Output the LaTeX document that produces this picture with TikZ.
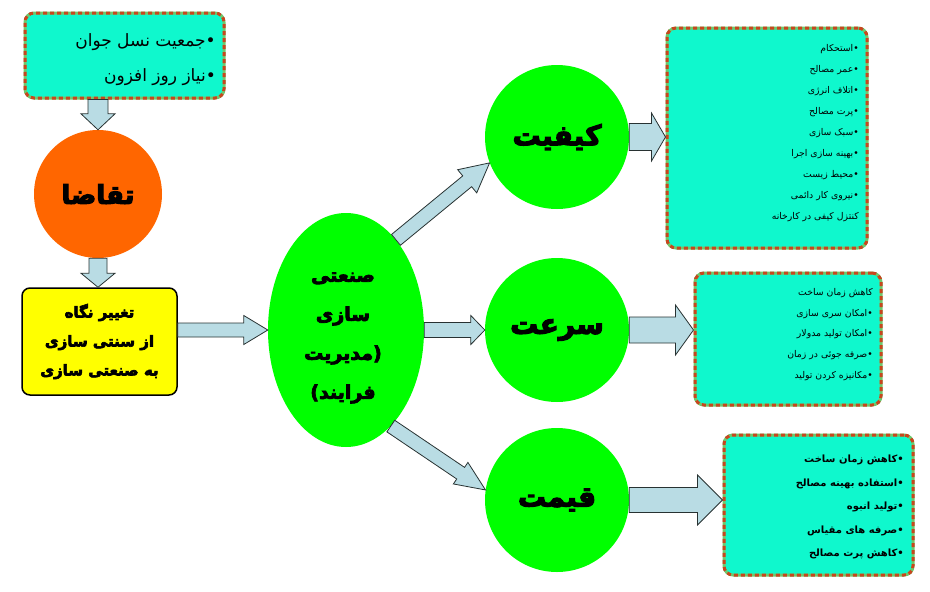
\documentclass[tikz,border=0pt]{standalone}
\usepackage{fontspec}
\usetikzlibrary{calc,shapes.geometric}
\TeXXeTstate=1
\newfontfamily\fa[Script=Arabic]{DejaVu Sans}
\newfontfamily\fatitr[Script=Arabic,FakeBold=4]{DejaVu Sans Bold}
\newcommand\rl[1]{\beginR #1\endR}
\definecolor{tealfill}{RGB}{15,248,205}
\definecolor{gapgreen}{RGB}{110,200,110}
\definecolor{dotred}{RGB}{200,70,30}
\definecolor{orangefill}{RGB}{255,102,0}
\definecolor{greenfill}{RGB}{0,255,0}
\definecolor{yellowfill}{RGB}{255,255,0}
\definecolor{arrowfill}{RGB}{185,220,228}
\definecolor{arrowline}{RGB}{40,50,50}
\tikzset{
  dotbox/.style={rectangle, rounded corners=9pt, fill=tealfill, draw=gapgreen, line width=3pt,
    postaction={draw=dotred, line width=3pt, dash pattern=on 4pt off 3pt}},
  bigcircle/.style={circle, fill=greenfill, minimum size=144pt, inner sep=0pt,
    font=\fatitr\fontsize{28}{30}\selectfont},
  blockarrow/.style={fill=arrowfill, draw=arrowline, line width=0.8pt, line join=miter},
  smalltext/.style={align=right, inner sep=0pt, font=\fa\fontsize{9.3}{20.9}\selectfont},
}
% #1 from, #2 to, #3 shaft half width, #4 head half width, #5 head length
\newcommand\barrow[5]{%
  \coordinate (bh) at ($(#2)!#5!(#1)$);
  \draw[blockarrow] ($(#1)!#3!90:(#2)$) -- ($(bh)!#3!90:(#2)$) -- ($(bh)!#4!90:(#2)$)
    -- (#2) -- ($(bh)!#4!-90:(#2)$) -- ($(bh)!#3!-90:(#2)$) -- ($(#1)!#3!-90:(#2)$) -- cycle;
}
\begin{document}
\begin{tikzpicture}[x=1pt,y=-1pt]
\useasboundingbox (0,0) rectangle (930,592);
% left column
\node[dotbox, minimum width=199pt, minimum height=85pt] (tl) at (124.5,55.5) {};
\node[anchor=east, align=right, inner sep=0pt, font=\fa\fontsize{17}{35}\selectfont] (tlt) at (216,59.5)
  {\rl{•جمعیت نسل جوان}\\ \rl{•نیاز روز افزون}};
\node[circle, fill=orangefill, minimum size=128pt, inner sep=0pt,
  font=\fatitr\fontsize{26}{30}\selectfont] (dem) at (98,194) {تقاضا};
\node[rectangle, rounded corners=8pt, fill=yellowfill, draw=black, line width=1.5pt,
  minimum width=155pt, minimum height=107pt, align=center,
  font=\fatitr\fontsize{15}{29}\selectfont] (yb) at (99.5,341.5)
  {\rl{تغییر نگاه}\\ \rl{از سنتی سازی}\\ \rl{به صنعتی سازی}};
% central ellipse
\node[ellipse, fill=greenfill, minimum width=156pt, minimum height=234pt, inner sep=0pt] (ell) at (346,330) {};
\node[align=center, inner sep=0pt, font=\fatitr\fontsize{19}{39}\selectfont] (ellt) at (343,338)
  {صنعتی\\ سازی\\ (مدیریت\\ فرایند)};
% three circles
\node[bigcircle] (kq) at (557,137) {کیفیت};
\node[bigcircle] (sr) at (557,330) {سرعت};
\node[bigcircle] (gh) at (557,500) {قیمت};
% right boxes
\node[dotbox, minimum width=200pt, minimum height=220pt] (b1) at (767,138) {};
\node[dotbox, minimum width=186pt, minimum height=132pt] (b2) at (788,339) {};
\node[dotbox, minimum width=189pt, minimum height=140pt] (b3) at (818.5,505) {};
\node[smalltext, anchor=east] (t1) at (859,133)
  {\rl{•استحکام}\\ \rl{•عمر مصالح}\\ \rl{•اتلاف انرژی}\\ \rl{•پرت مصالح}\\ \rl{•سبک سازی}\\
   \rl{•بهینه سازی اجرا}\\ \rl{•محیط زیست}\\ \rl{•نیروی کار دائمی}\\ \rl{کنتزل کیفی در کارخانه}};
\node[smalltext, anchor=east] (t2) at (873,334.5)
  {\rl{کاهش زمان ساخت}\\ \rl{•امکان سری سازی}\\ \rl{•امکان تولید مدولار}\\ \rl{•صرفه جوئی در زمان}\\ \rl{•مکانیزه کردن تولید}};
\node[anchor=east, align=right, inner sep=0pt, font=\fa\bfseries\fontsize{10}{23.5}\selectfont] (t3) at (904,507)
  {\rl{•کاهش زمان ساخت}\\ \rl{•استفاده بهینه مصالح}\\ \rl{•تولید انبوه}\\ \rl{•صرفه های مقیاس}\\ \rl{•کاهش پرت مصالح}};
% block arrows
\barrow{tl.south -| dem.north}{dem.north}{10pt}{17pt}{16pt}
\barrow{dem.south}{dem.south |- yb.north}{9pt}{17pt}{14pt}
\barrow{yb.east |- ell.west}{ell.west}{7pt}{14.5pt}{24pt}
\barrow{ell.61}{kq.201}{7pt}{15pt}{29pt}
\barrow{ell.east}{sr.west}{7.5pt}{14.5pt}{14pt}
\barrow{ell.-65}{gh.172}{7pt}{13pt}{30pt}
\barrow{kq.east}{kq.east -| b1.west}{13.5pt}{24pt}{14pt}
\barrow{sr.east}{sr.east -| b2.west}{13pt}{25pt}{18pt}
\barrow{gh.east}{gh.east -| b3.west}{12.5pt}{25pt}{25pt}
\end{tikzpicture}
\end{document}
